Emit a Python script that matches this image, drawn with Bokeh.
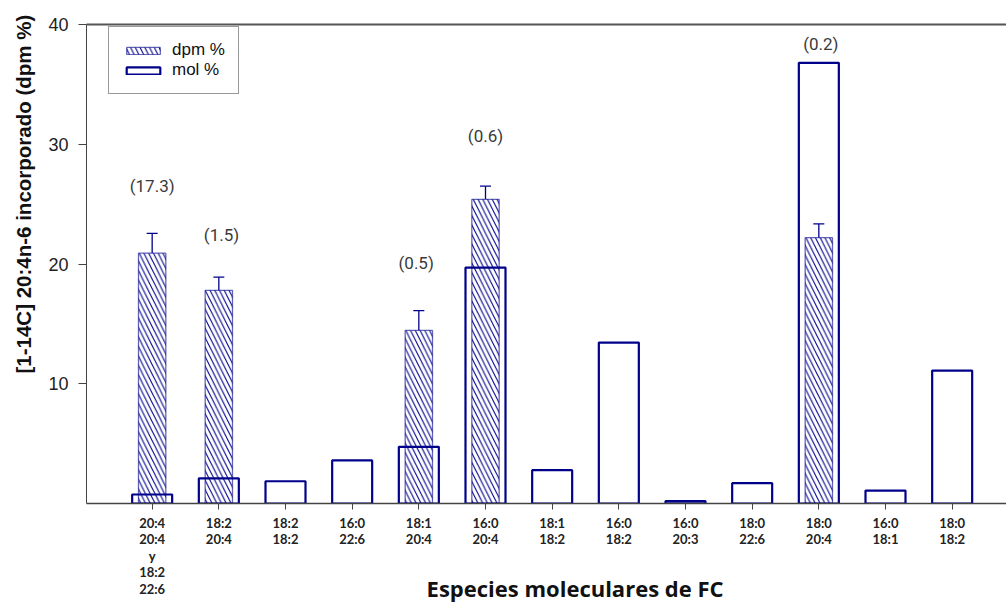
import math
from bokeh.plotting import figure
from bokeh.models import (ColumnDataSource, Range1d, FixedTicker, LinearAxis, Legend,
                          LegendItem, Whisker, TeeHead, Title)
from bokeh.core.properties import value
from bokeh.embed import file_html
from bokeh.resources import INLINE

# ---- data ----
species = ["20:4\n20:4\ny\n18:2\n22:6", "18:2\n20:4", "18:2\n18:2", "16:0\n22:6",
           "18:1\n20:4", "16:0\n20:4", "18:1\n18:2", "16:0\n18:2", "16:0\n20:3",
           "18:0\n22:6", "18:0\n20:4", "16:0\n18:1", "18:0\n18:2"]
mol_pct = [0.75, 2.1, 1.86, 3.6, 4.73, 19.7, 2.78, 13.44, 0.2, 1.7, 36.8, 1.08, 11.1]
dpm_pct = [20.9, 17.8, None, None, 14.45, 25.4, None, None, None, None, 22.2, None, None]
dpm_err = [1.65, 1.1, None, None, 1.65, 1.1, None, None, None, None, 1.15, None, None]
ratio_labels = ["(17.3)", "(1.5)", "(0.5)", "(0.6)", "(0.2)"]
ratio_x = [0, 1.04, 3.96, 5.0, 10.03]
ratio_y = [26.5, 22.45, 20.07, 30.7, 38.4]
y_ticks = [10, 20, 30, 40]
x_title = "Especies moleculares de FC"
y_title = "[1-14C] 20:4n-6 incorporado (dpm %)"

NAVY = "#00008B"

x_idx = list(range(len(species)))
mol_src = ColumnDataSource(dict(x=x_idx, top=mol_pct))
dx, dt, dl, du = [], [], [], []
for i, (v, e) in enumerate(zip(dpm_pct, dpm_err)):
    if v is not None:
        dx.append(i); dt.append(v); dl.append(v); du.append(v + e)
dpm_src = ColumnDataSource(dict(x=dx, top=dt, lower=dl, upper=du))
lab_src = ColumnDataSource(dict(x=ratio_x, y=ratio_y, t=ratio_labels))

p = figure(width=1006, height=607, output_backend="svg", toolbar_location=None,
           x_range=Range1d(-0.985, 12.815), y_range=Range1d(0, 40),
           min_border_left=86, min_border_right=0, min_border_top=24, min_border_bottom=104)
p.outline_line_color = None
p.xgrid.visible = False
p.ygrid.visible = False
p.background_fill_color = "white"
p.border_fill_color = "white"

# dpm bars (hatched)
dpm_r = p.vbar(x="x", top="top", bottom=0, width=0.41, source=dpm_src,
               fill_color="white", line_color=NAVY, line_alpha=0.6, line_width=1.3,
               hatch_pattern="left_diagonal_line", hatch_color=NAVY, hatch_scale=9.5,
               hatch_weight=1.1)
# mol bars (open)
mol_r = p.vbar(x="x", top="top", bottom=0, width=0.6, source=mol_src,
               fill_alpha=0, line_color=NAVY, line_width=2.2)

# error bars
wh = Whisker(base="x", lower="lower", upper="upper", source=dpm_src,
             line_color=NAVY, line_width=1.3,
             upper_head=TeeHead(size=11, line_color=NAVY, line_width=1.3),
             lower_head=None)
p.add_layout(wh)

# ratio labels
p.text(x="x", y="y", text="t", source=lab_src, text_align="center",
       text_baseline="middle", text_font=value("Roboto"), text_font_size="17px",
       text_color="#3a3a3a")

# axes
xa = p.xaxis[0]
xa.ticker = FixedTicker(ticks=x_idx)
xa.major_label_overrides = {i: s for i, s in enumerate(species)}
xa.major_label_text_font = "Lato"
xa.major_label_text_font_style = "bold"
xa.major_label_text_font_size = "13px"
xa.major_label_text_color = "#222222"
xa.major_label_text_line_height = 1.04
xa.major_tick_in = 0
xa.major_tick_out = 6
xa.minor_tick_line_color = None
xa.major_label_standoff = 5
xa.axis_line_color = "#444444"
xa.axis_line_width = 1.5
xa.major_tick_line_color = "#444444"
# x title: axis label pulled up beside the tall first tick label,
# nudged right with leading no-break spaces
xa.axis_label = "\u00a0" * 10 + x_title
xa.axis_label_standoff = -27
xa.axis_label_text_font = "Open Sans"
xa.axis_label_text_font_style = "bold"
xa.axis_label_text_font_size = "22px"
xa.axis_label_text_color = "#111111"

ya = p.yaxis[0]
ya.ticker = FixedTicker(ticks=y_ticks)
ya.major_label_text_font = "Liberation Sans"
ya.major_label_text_font_size = "18px"
ya.major_label_text_color = "#222222"
ya.major_tick_in = 0
ya.major_tick_out = 8
ya.minor_tick_line_color = None
ya.major_label_standoff = 10
ya.axis_line_color = "#444444"
ya.major_tick_line_color = "#444444"

top_axis = LinearAxis(ticker=FixedTicker(ticks=[]), major_label_text_font_size="0px",
                      major_tick_line_color=None, minor_tick_line_color=None,
                      axis_line_color="#555555", axis_line_width=2)
p.add_layout(top_axis, "above")

# y axis title
p.add_layout(Title(text=y_title, align="left", offset=130, vertical_align="middle",
                   standoff=20, text_font="Liberation Sans", text_font_style="bold",
                   text_font_size="20.5px", text_color="#111111"), "left")

# legend
legend = Legend(items=[LegendItem(label="dpm %", renderers=[dpm_r]),
                       LegendItem(label="mol %", renderers=[mol_r])],
                location=(22, 409), orientation="vertical",
                glyph_width=42, glyph_height=9, label_height=20, label_standoff=8,
                spacing=0, padding=13, margin=0,
                label_text_font="Liberation Sans", label_text_font_size="17px",
                label_text_color="#111111",
                border_line_color="#333333", border_line_width=1,
                background_fill_color="white", background_fill_alpha=1)
p.add_layout(legend)

open("out.html", "w").write(file_html(p, INLINE))
